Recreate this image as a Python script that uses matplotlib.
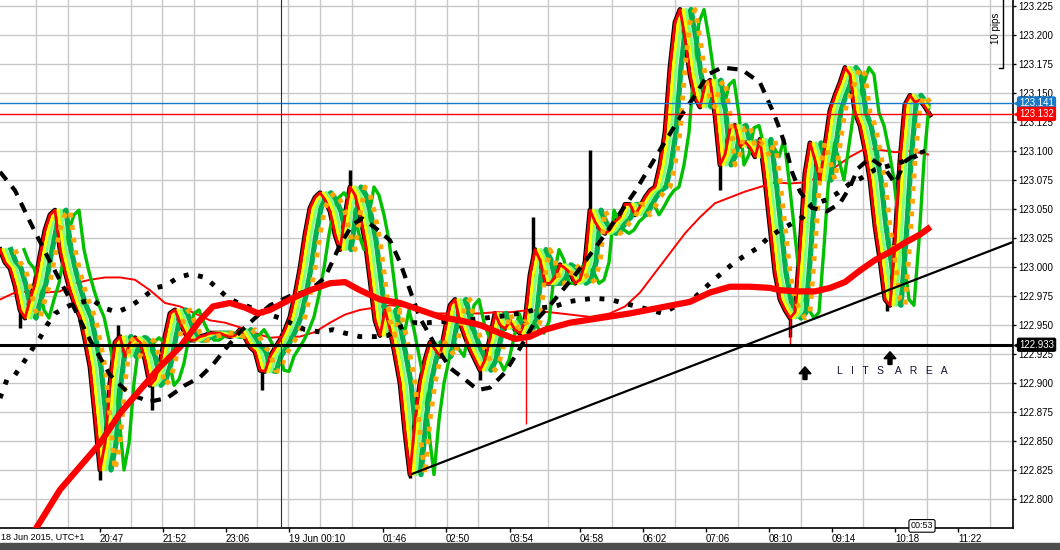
import numpy as np
import matplotlib
matplotlib.use("Agg")
import matplotlib.pyplot as plt
from matplotlib.patches import Rectangle

plt.rcParams['font.family'] = ['Liberation Sans', 'DejaVu Sans']

# x unit = one chart column; a close is read every 5 columns
bar_step = 5
close = [
    123.015, 123.004, 122.999, 122.984, 122.963, 122.956, 122.972, 122.986, 123.010, 123.032,
    123.045, 123.049, 123.015, 122.996, 122.980, 122.967, 122.957, 122.937, 122.914, 122.871,
    122.825, 122.848, 122.900, 122.935, 122.940, 122.923, 122.935, 122.939, 122.935, 122.920,
    122.898, 122.903, 122.917, 122.940, 122.960, 122.963, 122.952, 122.943, 122.937, 122.937,
    122.940, 122.941, 122.943, 122.943, 122.943, 122.941, 122.940, 122.941, 122.946, 122.939,
    122.931, 122.927, 122.911, 122.910, 122.923, 122.930, 122.937, 122.946, 122.957, 122.976,
    122.999, 123.028, 123.051, 123.060, 123.064, 123.058, 123.048, 123.028, 123.015, 123.045,
    123.069, 123.062, 123.045, 123.023, 122.989, 122.954, 122.941, 122.963, 122.946, 122.924,
    122.900, 122.857, 122.821, 122.868, 122.900, 122.920, 122.935, 122.929, 122.923, 122.946,
    122.967, 122.972, 122.952, 122.940, 122.929, 122.920, 122.911, 122.920, 122.939, 122.960,
    122.950, 122.947, 122.953, 122.946, 122.943, 122.953, 122.993, 123.015, 123.006, 122.986,
    122.986, 122.991, 123.002, 122.999, 122.995, 122.986, 122.989, 123.004, 123.049, 123.039,
    123.032, 123.029, 123.032, 123.039, 123.043, 123.054, 123.054, 123.045, 123.052, 123.060,
    123.066, 123.069, 123.088, 123.116, 123.172, 123.211, 123.222, 123.197, 123.166, 123.146,
    123.138, 123.157, 123.161, 123.131, 123.088, 123.097, 123.120, 123.122, 123.104, 123.108,
    123.103, 123.095, 123.110, 123.075, 123.035, 122.995, 122.972, 122.963, 122.956, 122.961,
    123.017, 123.081, 123.107, 123.092, 123.075, 123.105, 123.135, 123.148, 123.159, 123.172,
    123.166, 123.133, 123.122, 123.101, 123.075, 123.035, 123.006, 122.972, 122.967, 123.023,
    123.092, 123.140, 123.148, 123.142, 123.144, 123.138, 123.131,
]

# candle wicks sticking out of the ribbon
wick_bar = [20, 100, 118, 152, 262, 350, 410, 480, 533, 590, 720, 790, 887]
wick_low = [122.947, 122.816, 122.940, 122.877, 122.894, 123.060, 122.818, 122.903,
            122.990, 123.030, 123.066, 122.940, 122.962]
wick_high = [122.972, 122.850, 122.950, 122.905, 122.915, 123.084, 122.840, 122.915,
             123.043, 123.101, 123.090, 122.975, 122.980]
red_spike_bar = [526, 790]
red_spike_low = [122.865, 122.932]
red_spike_high = [122.972, 122.972]

# slow moving average (thick red)
slow_bar = [37, 60, 80, 100, 120, 140, 160, 180, 200, 213, 230, 245, 258, 270, 290, 310,
            330, 345, 360, 380, 400, 420, 440, 460, 480, 500, 515, 530, 545, 570, 600, 630,
            660, 690, 710, 730, 750, 770, 780, 800, 815, 830, 845, 860, 875, 890, 905, 920, 928]
slow_ma = [122.776, 122.808, 122.828, 122.848, 122.874, 122.894, 122.914, 122.931, 122.954,
           122.966, 122.969, 122.965, 122.960, 122.963, 122.972, 122.980, 122.986, 122.987,
           122.980, 122.972, 122.969, 122.963, 122.957, 122.954, 122.950, 122.943, 122.938,
           122.940, 122.946, 122.952, 122.956, 122.960, 122.965, 122.970, 122.978, 122.983,
           122.983, 122.982, 122.980, 122.979, 122.979, 122.982, 122.987, 122.997, 123.006,
           123.013, 123.021, 123.028, 123.033]

# medium moving average (thin red)
mid_bar = [0, 15, 30, 45, 60, 75, 90, 105, 120, 135, 150, 165, 180, 195, 210, 225, 240, 255,
           270, 285, 300, 315, 330, 345, 360, 375, 390, 405, 420, 435, 450, 465, 480, 495,
           510, 530, 550, 570, 590, 610, 625, 640, 655, 670, 685, 700, 715, 730, 745, 760,
           775, 790, 805, 820, 835, 850, 865, 880, 895, 910, 928]
mid_ma = [122.972, 122.978, 122.979, 122.978, 122.979, 122.986, 122.989, 122.991, 122.991,
          122.989, 122.980, 122.969, 122.966, 122.960, 122.954, 122.952, 122.948, 122.943,
          122.939, 122.940, 122.940, 122.944, 122.952, 122.959, 122.963, 122.965, 122.967,
          122.966, 122.963, 122.960, 122.960, 122.960, 122.960, 122.961, 122.961, 122.963,
          122.961, 122.959, 122.957, 122.960, 122.966, 122.978, 122.995, 123.012, 123.029,
          123.043, 123.055, 123.060, 123.065, 123.069, 123.073, 123.072, 123.073, 123.078,
          123.086, 123.095, 123.102, 123.101, 123.099, 123.100, 123.097]

# black dashed average
dash_bar = [0, 15, 30, 48, 70, 90, 110, 130, 150, 167, 185, 200, 213, 227, 240, 255, 270,
            290, 310, 325, 340, 352, 362, 375, 390, 400, 410, 420, 435, 450, 465, 478, 490,
            505, 520, 535, 550, 575, 605, 635, 660, 680, 695, 708, 722, 742, 760, 773, 781,
            787, 792, 800, 812, 827, 840, 850, 858, 870, 885, 895, 905, 915, 925]
dash_ma = [123.082, 123.066, 123.039, 123.008, 122.972, 122.937, 122.907, 122.890, 122.884,
           122.887, 122.898, 122.905, 122.916, 122.931, 122.944, 122.956, 122.967, 122.975,
           122.980, 122.991, 123.019, 123.036, 123.042, 123.034, 123.023, 123.004, 122.980,
           122.956, 122.933, 122.913, 122.903, 122.894, 122.896, 122.909, 122.930, 122.953,
           122.967, 122.993, 123.028, 123.065, 123.101, 123.129, 123.148, 123.166, 123.172,
           123.170, 123.159, 123.134, 123.116, 123.099, 123.082, 123.065, 123.051, 123.048,
           123.055, 123.069, 123.085, 123.094, 123.085, 123.072, 123.091, 123.097, 123.100]

# black dotted average
dot_bar = [0, 7, 15, 23, 32, 40, 47, 55, 70, 92, 103, 117, 130, 142, 155, 166, 178, 191,
           205, 217, 227, 238, 248, 262, 280, 295, 305, 320, 333, 345, 360, 375, 388, 400,
           413, 427, 445, 465, 485, 505, 525, 543, 555, 568, 582, 595, 610, 623, 637, 650,
           663, 677, 690, 700, 710, 722, 733, 745, 757, 768, 780, 793, 803, 812, 827, 838,
           850, 862, 875, 888, 900, 912, 923]
dot_ma = [122.887, 122.903, 122.907, 122.917, 122.929, 122.939, 122.950, 122.960, 122.967,
          122.972, 122.965, 122.961, 122.966, 122.973, 122.982, 122.984, 122.991, 122.994,
          122.991, 122.982, 122.974, 122.969, 122.966, 122.961, 122.956, 122.950, 122.946,
          122.944, 122.946, 122.943, 122.940, 122.940, 122.941, 122.948, 122.952, 122.952,
          122.953, 122.954, 122.956, 122.958, 122.961, 122.965, 122.966, 122.970, 122.972,
          122.973, 122.972, 122.969, 122.966, 122.963, 122.960, 122.967, 122.970, 122.978,
          122.986, 122.995, 123.003, 123.010, 123.016, 123.025, 123.032, 123.038, 123.043,
          123.054, 123.058, 123.064, 123.072, 123.077, 123.084, 123.087, 123.090, 123.094,
          123.099]

time_ticks = [100, 163, 226, 289, 383, 446, 510, 580, 643, 706, 769, 832, 895, 958]
time_labels = ['20:47', '21:52', '23:06', '19 Jun 00:10', '01:46', '02:50', '03:54',
               '04:58', '06:02', '07:06', '08:10', '09:14', '10:18', '11:22']
price_ticks = np.arange(122.800, 123.2251, 0.025)

fig = plt.figure(figsize=(10.6, 5.5), dpi=100)
ax = fig.add_axes([0, 22 / 550, 1013 / 1060, 528 / 550])
ax.set_xlim(0, 1013)
ax.set_ylim(122.775, 123.2302)

close = np.array(close)
xs = np.arange(len(close)) * bar_step

# price bars
ax.vlines(wick_bar, wick_low, wick_high, color='black', lw=2.5, zorder=2)
ax.plot(xs, close, color='black', lw=3.5, zorder=2)

# ribbon of fast averages (drawn as lagged copies of price)
ax.plot(mid_bar, mid_ma, color='#ff0000', lw=1.4, zorder=3)
ribbon = [('#00c000', 2.4, 24), ('#00b050', 3.8, 11), ('#80ff80', 2.4, 6),
          ('#ffff00', 2.2, 3), ('#ff0000', 2.0, 0)]
for color, lw, lag in ribbon:
    keep = xs + lag <= xs[-1]
    ax.plot(xs[keep] + lag, close[keep], color=color, lw=lw, zorder=4)
keep = xs + 15 <= xs[-1]
ax.plot(xs[keep] + 15, close[keep], color='#ffa500', lw=3.5,
        linestyle=(0, (1, 1.6)), dash_capstyle='butt', zorder=5)
ax.vlines(red_spike_bar, red_spike_low, red_spike_high, color='#ff0000', lw=1, zorder=3)

ax.plot(dash_bar, dash_ma, color='black', lw=3, linestyle=(0, (2.5, 2)), zorder=5)
ax.plot(dot_bar, dot_ma, color='black', lw=3.5, linestyle=(0, (1, 2)),
        dash_capstyle='butt', zorder=5)
ax.plot(slow_bar, slow_ma, color='#ff0000', lw=4.5, zorder=6)

# horizontal levels, crosshair and trend line
ax.axhline(123.141, color='#1a78c8', lw=1, zorder=7)
ax.axhline(123.132, color='#ff0000', lw=1, zorder=7)
ax.axhline(122.933, color='black', lw=2.2, zorder=7)
ax.axvline(281, color='#303030', lw=0.8, zorder=7)
ax.plot([412, 1013], [122.8216, 123.0216], color='black', lw=1.6, zorder=7)

# price labels on the right axis
ytr = ax.get_yaxis_transform()
for val, col in [(123.141, '#1a78c8'), (123.132, '#ff0000'), (122.933, 'black')]:
    ax.text(1.006, val, f'{val:.3f}', transform=ytr, ha='left', va='center',
            fontsize=7, color='white', clip_on=False, zorder=10,
            bbox=dict(boxstyle='round,pad=0.15', fc=col, ec=col))
    ax.plot([1.004], [val], marker='<', ms=5, color=col, transform=ytr,
            clip_on=False, zorder=10)

# up arrows and label of the support area
for ax_x, ax_y in [(805, 122.903), (890, 122.916)]:
    ax.arrow(ax_x, ax_y, 0, 0.011, width=4, head_width=12, head_length=0.006,
             length_includes_head=True, color='black', zorder=8)
ax.text(837, 122.910, 'L   I   T   S    A   R   E   A', fontsize=7.5,
        color='#101030', va='center', ha='left', zorder=8)

ax.plot([1003, 1003, 999], [123.24, 123.172, 123.172], color='black', lw=1,
        clip_on=False, zorder=8)
ax.text(996, 123.206, '10 pips', rotation=90, fontsize=7, ha='center', va='center',
        zorder=8)

xtr = ax.get_xaxis_transform()
ax.text(922, 0.004, '00:53', transform=xtr, ha='center', va='center', fontsize=6.5,
        clip_on=False, zorder=10,
        bbox=dict(boxstyle='round,pad=0.2', fc='white', ec='black', lw=0.8))
ax.text(1, -0.017, '18 Jun 2015, UTC+1', transform=xtr, ha='left', va='center',
        fontsize=6.5, clip_on=False)

# axes styling
ax.yaxis.tick_right()
ax.set_yticks(price_ticks)
ax.set_yticklabels([f'{v:.3f}' for v in price_ticks])
ax.set_xticks(time_ticks)
ax.set_xticklabels(time_labels, ha='left')
grid_x = [36, 68, 100, 131, 162, 194, 226, 257, 288, 320, 352, 383, 415, 447, 478, 510,
          548, 580, 612, 643, 675, 706, 738, 769, 801, 832, 863, 895, 927, 958, 990]
ax.set_xticks(grid_x, minor=True)
ax.tick_params(axis='x', which='minor', length=0)
ax.tick_params(axis='x', which='major', length=3, width=1, pad=1, labelsize=7)
ax.tick_params(axis='y', length=2.5, width=1, pad=1.5, labelsize=7)
ax.grid(axis='x', which='minor', color='#c8c8c8', lw=1)
ax.grid(axis='y', which='major', color='#c8c8c8', lw=1)
ax.set_axisbelow(True)
for side in ['top', 'left']:
    ax.spines[side].set_visible(False)
for side in ['right', 'bottom']:
    ax.spines[side].set_linewidth(1.2)
    ax.spines[side].set_color('black')

fig.add_artist(Rectangle((0, 0), 1, 7 / 550, transform=fig.transFigure,
                         color='#4d4d4d'))

fig.savefig('out.png', dpi=100)
